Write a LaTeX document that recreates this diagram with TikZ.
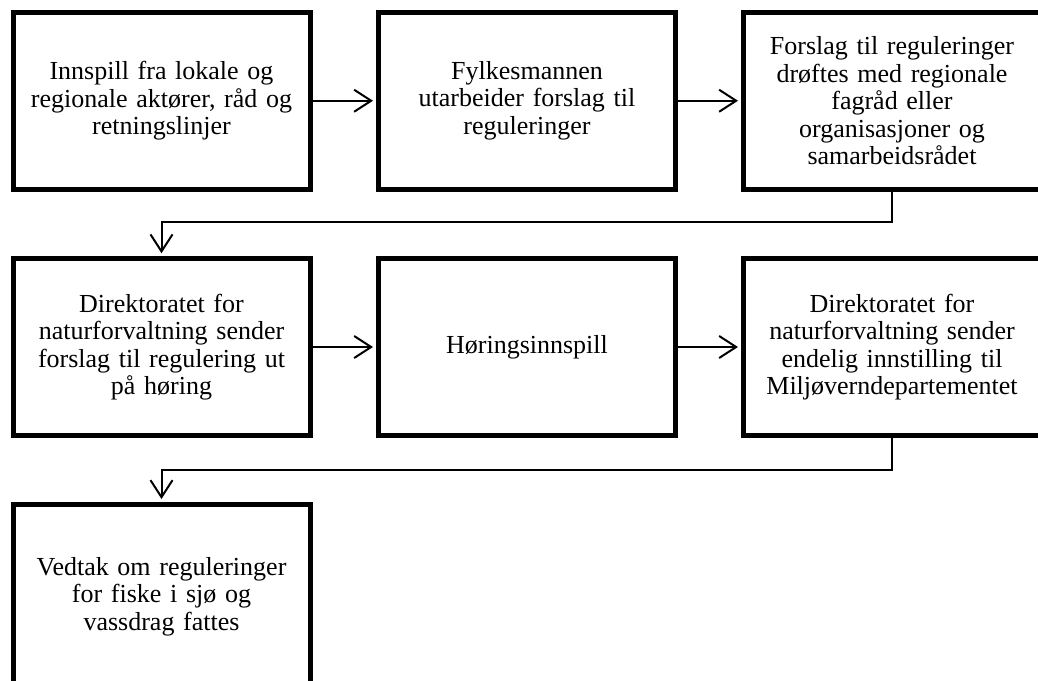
\documentclass[tikz,border=0pt]{standalone}
\usepackage{fontspec}
\setmainfont{Liberation Serif}
\usetikzlibrary{arrows.meta}
\begin{document}
\begin{tikzpicture}[x=1pt,y=-1pt,
  box/.style={draw=black, line width=5pt, minimum width=297pt, minimum height=176.5pt,
    inner sep=0pt, align=center, text width=280pt,
    font=\fontsize{26}{27.5}\selectfont},
  conn/.style={draw=black, line width=2pt,
    -{Straight Barb[length=17pt,width=22pt,line width=2pt]}, shorten >=3pt}]
\useasboundingbox (0,0) rectangle (1038,680);
\clip (0,0) rectangle (1038,680);
\fill[white] (0,0) rectangle (1038,680);
\node[box] (b1) at (161.5,100.75) {Innspill fra lokale og\\regionale aktører, råd og\\retningslinjer};
\node[box] (b2) at (527,100.75) {Fylkesmannen\\utarbeider forslag til\\reguleringer};
\node[box] (b3) at (892,100.75) {Forslag til reguleringer\\drøftes med regionale\\fagråd eller\\organisasjoner og\\samarbeidsrådet};
\node[box] (b4) at (161.5,347) {Direktoratet for\\naturforvaltning sender\\forslag til regulering ut\\på høring};
\node[box] (b5) at (527,347) {Høringsinnspill};
\node[box] (b6) at (892,347) {Direktoratet for\\naturforvaltning sender\\endelig innstilling til\\Miljøverndepartementet};
\node[box, minimum height=184pt] (b7) at (161.5,596.5) {Vedtak om reguleringer\\for fiske i sjø og\\vassdrag fattes};
\coordinate (k1) at (892,222);
\coordinate (k2) at (161.5,222);
\coordinate (k3) at (892,470);
\coordinate (k4) at (161.5,470);
\draw[conn] (b1.east) -- (b2.west);
\draw[conn] (b2.east) -- (b3.west);
\draw[conn] (b3.south) -- (k1) -- (k2) -- (b4.north);
\draw[conn] (b4.east) -- (b5.west);
\draw[conn] (b5.east) -- (b6.west);
\draw[conn] (b6.south) -- (k3) -- (k4) -- (b7.north);
\end{tikzpicture}
\end{document}
